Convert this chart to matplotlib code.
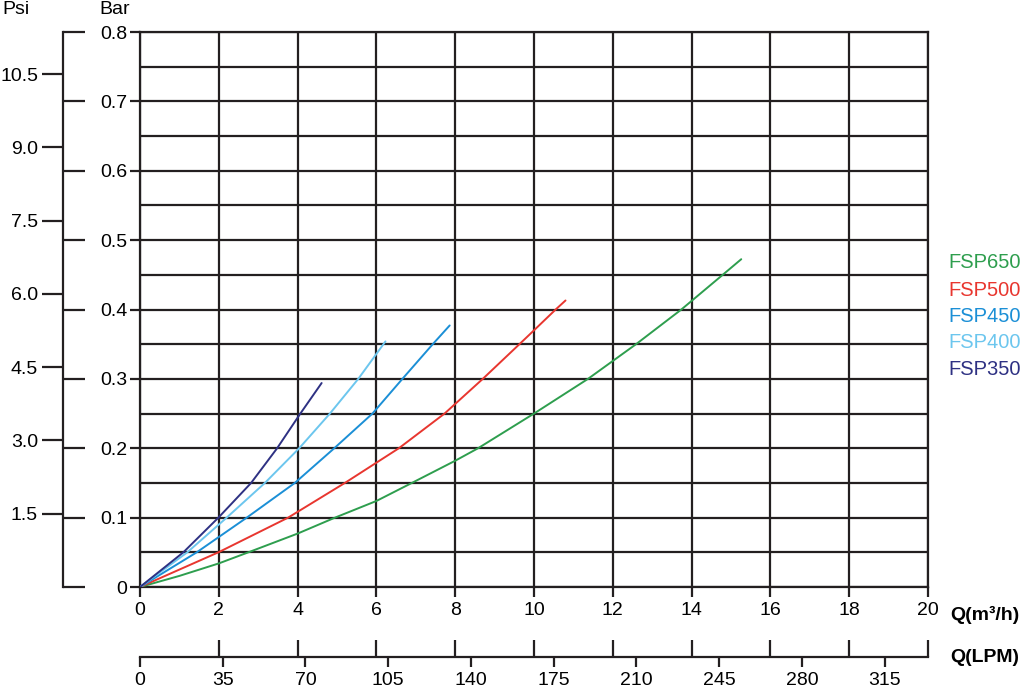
import numpy as np
import matplotlib
matplotlib.use("Agg")
import matplotlib.pyplot as plt

plt.rcParams['font.family'] = ['Liberation Sans', 'DejaVu Sans']

# pump curves: flow Q (m3/h) vs head (bar)
models = ["FSP650", "FSP500", "FSP450", "FSP400", "FSP350"]
colors = ["#2e9e4e", "#e8362f", "#1b8fd6", "#6cc6ee", "#2e3183"]

q_650 = [0, 1.0, 2.0, 2.75, 4.0, 4.95, 6.0, 6.9, 8.0, 8.58, 10.0, 11.37, 12.59, 13.74, 14.79, 15.26]
h_650 = [0, 0.016, 0.034, 0.05, 0.077, 0.10, 0.124, 0.15, 0.182, 0.20, 0.25, 0.30, 0.35, 0.40, 0.45, 0.4725]
q_500 = [0, 1.99, 3.76, 5.2, 6.57, 7.73, 8.70, 9.63, 10.0, 10.55, 10.80]
h_500 = [0, 0.05, 0.10, 0.15, 0.20, 0.25, 0.30, 0.35, 0.37, 0.40, 0.413]
q_450 = [0, 1.44, 2.71, 3.93, 4.93, 5.90, 6.66, 7.43, 7.86]
h_450 = [0, 0.05, 0.10, 0.15, 0.20, 0.25, 0.30, 0.35, 0.377]
q_400 = [0, 1.2, 2.2, 3.17, 4.04, 4.82, 5.54, 6.23]
h_400 = [0, 0.05, 0.10, 0.15, 0.20, 0.25, 0.30, 0.354]
q_350 = [0, 1.10, 1.99, 2.82, 3.48, 4.07, 4.61]
h_350 = [0, 0.05, 0.10, 0.15, 0.20, 0.25, 0.294]
curves = [(q_650, h_650), (q_500, h_500), (q_450, h_450), (q_400, h_400), (q_350, h_350)]

q_ticks = np.arange(0, 21, 2)
bar_ticks = np.round(np.arange(0, 0.81, 0.1), 2)
psi_ticks = [1.5, 3.0, 4.5, 6.0, 7.5, 9.0, 10.5]
lpm_ticks = [0, 35, 70, 105, 140, 175, 210, 245, 280, 315]
PSI_PER_BAR = 14.2

DARK = "#231f20"
W, H = 1024, 691
FS = 14

fig = plt.figure(figsize=(W / 100, H / 100), dpi=100)
ax = fig.add_axes([140 / W, 1 - 587 / H, 788 / W, 555 / H])

for (q, h), c in zip(curves, colors):
    ax.plot(q, h, color=c, lw=1.4, zorder=3, solid_capstyle='round', solid_joinstyle='round')

ax.set_xlim(0, 20)
ax.set_ylim(0, 0.8)
ax.set_xticks(q_ticks)
ax.set_xticklabels([str(v) for v in q_ticks])
ax.set_yticks(bar_ticks)
ax.set_yticklabels(["0"] + [f"{v:.1f}" for v in bar_ticks[1:]])
ax.set_yticks(np.arange(0.05, 0.8, 0.1), minor=True)
ax.grid(which='both', color=DARK, lw=1.6, zorder=1)
ax.tick_params(which='major', direction='out', length=7, width=1.6, color=DARK,
               labelsize=FS, pad=2)
ax.tick_params(which='minor', length=0)
ax.tick_params(axis='x', pad=4)
for s in ax.spines.values():
    s.set_color(DARK)
    s.set_linewidth(1.6)

# psi scale on the far left
axp = ax.twinx()
axp.set_ylim(0, 0.8 * PSI_PER_BAR)
for name in ['right', 'top', 'bottom']:
    axp.spines[name].set_visible(False)
axp.spines['left'].set_visible(True)
axp.spines['left'].set_position(('axes', (63 - 140) / 788))
axp.spines['left'].set_color(DARK)
axp.spines['left'].set_linewidth(1.6)
axp.yaxis.set_ticks_position('left')
axp.set_yticks(psi_ticks)
axp.set_yticklabels([f"{v:.1f}" for v in psi_ticks])
axp.set_yticks(bar_ticks * PSI_PER_BAR, minor=True)
axp.tick_params(which='major', direction='out', length=15, width=1.6, color=DARK,
                labelsize=FS, pad=3)
axp.tick_params(which='minor', direction='in', length=16, width=1.6, color=DARK)

# LPM scale below
sec = ax.secondary_xaxis((587 - 657) / 555, functions=(lambda q: q * 1000 / 60,
                                                       lambda l: l * 60 / 1000))
sec.set_xticks(lpm_ticks)
sec.set_xticklabels([str(v) for v in lpm_ticks])
sec.set_xticks(q_ticks * 1000 / 60, minor=True)
sec.tick_params(which='major', direction='out', length=7, width=1.6, color=DARK,
                labelsize=FS, pad=4)
sec.tick_params(which='minor', direction='in', length=12, width=1.6, color=DARK)
sec.spines['bottom'].set_color(DARK)
sec.spines['bottom'].set_linewidth(1.6)

fig.text(2 / W, 1 - 9 / H, "Psi", fontsize=FS, va='center', ha='left')
fig.text(99 / W, 1 - 9 / H, "Bar", fontsize=FS, va='center', ha='left')
fig.text(950 / W, 1 - 615 / H, "Q(m³/h)", fontsize=FS, fontweight='bold', va='center')
fig.text(950 / W, 1 - 657 / H, "Q(LPM)", fontsize=FS, fontweight='bold', va='center')

for i, (m, c) in enumerate(zip(models, colors)):
    y = [263, 290, 316, 343, 369][i]
    fig.text(948 / W, 1 - y / H, m, color=c, fontsize=14.5, va='center', ha='left')

fig.savefig("out.png", dpi=100)
